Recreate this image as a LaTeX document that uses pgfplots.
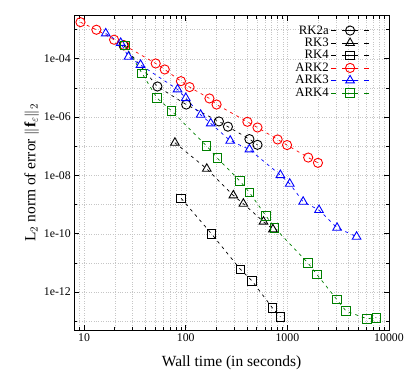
\documentclass[border=0pt]{standalone}
\usepackage{fontspec}
\setmainfont{Liberation Serif}
\usepackage{pgfplots}
\pgfplotsset{compat=1.18}
\definecolor{arkgreen}{RGB}{0,128,0}

\begin{document}
\begin{tikzpicture}
\path[use as bounding box] (-74.3pt,-43pt) rectangle (332.7pt,330pt);
\begin{axis}[
  scale only axis,
  width=314.7pt, height=314.3pt,
  xmode=log, ymode=log,
  xmin=8, xmax=10000,
  ymin=5e-14, ymax=3e-3,
  xtick={10,100,1000,10000},
  xticklabels={\mbox{10},\mbox{100},\mbox{1000},\mbox{10000}},
  minor xtick={8,9,20,30,40,50,60,70,80,90,200,300,400,500,600,700,800,900,2000,3000,4000,5000,6000,7000,8000,9000},
  ytick={1e-12,1e-10,1e-8,1e-6,1e-4},
  yticklabels={\mbox{1e-12},\mbox{1e-10},\mbox{1e-08},\mbox{1e-06},\mbox{1e-04}},
  minor ytick={1e-13,1e-11,1e-9,1e-7,1e-5,1e-3},
  tick label style={font=\fontsize{11.8}{14}\selectfont},
  label style={font=\fontsize{15.5}{18}\selectfont},
  xlabel style={yshift=-7pt},
  ylabel style={yshift=-2pt},
  grid=both,
  major grid style={gray!45, dotted, line width=0.4pt},
  minor grid style={gray!45, dotted, line width=0.4pt},
  tick align=inside,
  major tick length=5pt, minor tick length=3pt,
  every tick/.style={black, line width=0.6pt},
  axis line style={line width=0.7pt},
  xlabel={Wall time (in seconds)},
  ylabel={L$_2$ norm of error $\|\mathbf{f}_{\varepsilon}\|_2$},
  legend plot pos=right,
  legend cell align=right,
  legend style={draw=none, fill=none, at={(0.948,0.982)}, anchor=north east,
    font=\fontsize{12.8}{14}\selectfont, row sep=-1.5pt,
    /tikz/every even column/.append style={column sep=5pt}},
  legend image code/.code={
    \draw[#1, dash pattern=on 5pt off 6pt on 16pt off 6pt on 5pt] (0pt,0pt) -- (38pt,0pt);
    \draw[#1, only marks] plot coordinates {(19pt,0pt)};},
  every axis plot/.append style={line width=0.7pt, dash pattern=on 3pt off 4pt},
]
% RK2a
\addplot[black, mark=o, mark size=4.6pt, mark options={solid, line width=0.9pt}] coordinates {
  (24.4,2.9e-4)(52.6,1.12e-5)(101,2.7e-6)(212,7.1e-7)(260,4.7e-7)(423,1.76e-7)(508,1.12e-7)
};
\addlegendentry{RK2a}
% RK3
\addplot[black, mark=triangle, mark size=5pt, mark options={solid, line width=0.9pt}] coordinates {
  (78.2,1.32e-7)(161,1.69e-8)(294,2.06e-9)(369,1.07e-9)(582,2.6e-10)(721,1.41e-10)
};
\addlegendentry{RK3}
% RK4
\addplot[black, mark=square, mark size=4.3pt, mark options={solid, line width=0.9pt}] coordinates {
  (90.2,1.63e-9)(179,1.0e-10)(345,6.0e-12)(450,2.4e-12)(710,2.9e-13)(853,1.43e-13)
};
\addlegendentry{RK4}
% ARK2
\addplot[red, mark=o, mark size=4.6pt, mark options={solid, line width=0.9pt}] coordinates {
  (9.2,1.8e-3)(13.2,9.9e-4)(19.7,4.5e-4)(24.9,2.9e-4)(50.6,6.9e-5)(62.1,4.3e-5)
  (89.6,1.71e-5)(109,1.07e-5)(171,4.36e-6)(201,2.7e-6)(404,6.9e-7)(508,4.4e-7)
  (802,1.71e-7)(993,1.1e-7)(1603,4.1e-8)(2000,2.7e-8)
};
\addlegendentry{ARK2}
% ARK3
\addplot[blue, mark=triangle, mark size=5pt, mark options={solid, line width=0.9pt}] coordinates {
  (16.3,7.4e-4)(22.9,3.5e-4)(27.3,1.17e-4)(35.9,6.2e-5)(83,8.9e-6)(100,4.5e-6)
  (140,1.2e-6)(176,6.1e-7)(274,1.55e-7)(423,7.8e-8)(853,1.03e-8)(1055,5.2e-9)
  (1429,1.25e-9)(2046,6.5e-10)(3083,1.6e-10)(4800,7.9e-11)
};
\addlegendentry{ARK3}
% ARK4
\addplot[arkgreen, mark=square, mark size=4.3pt, mark options={solid, line width=0.9pt}] coordinates {
  (25.3,2.9e-4)(37.3,3.1e-5)(52.1,4.5e-6)(72.4,1.65e-6)(160,1.04e-7)(205,3.9e-8)
  (342,6.4e-9)(423,2.6e-9)(619,4.0e-10)(749,1.6e-10)(1592,1.0e-11)(1954,4.0e-12)
  (3062,5.6e-13)(3792,2.2e-13)(6068,1.22e-13)(7520,1.32e-13)
};
\addlegendentry{ARK4}
\end{axis}
\end{tikzpicture}
\end{document}
